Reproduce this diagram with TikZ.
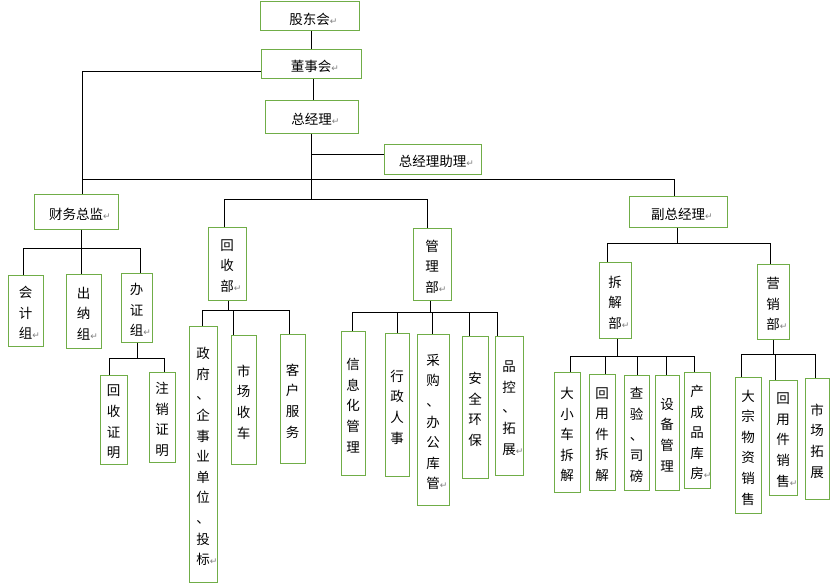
\documentclass[tikz,border=0pt]{standalone}
\usepackage{fontspec}
\setmainfont{Noto Sans CJK SC}
\newfontfamily\symf{DejaVu Sans}
\usetikzlibrary{fit}
\definecolor{boxgreen}{RGB}{112,173,71}
\newcommand\rt{\rlap{\textcolor{gray}{\symf\fontsize{9}{9}\selectfont ↵}}}
\tikzset{
  box/.style={draw=boxgreen, line width=1pt, inner sep=0pt},
  txt/.style={inner sep=0pt, align=center, yshift=-2.5pt,
    font=\fontsize{13.5}{20.6}\selectfont},
  ln/.style={line width=0.9pt, black},
}
\newcommand\bx[6]{\node[box, fit={(#2,#3)(#4,#5)}] (#1) {};
  \node[txt] (#1t) at (#1.center) {#6};}
\begin{document}
\begin{tikzpicture}[x=1pt,y=-1pt]
\useasboundingbox[fill=white] (0,0) rectangle (832,586);
% top level
\bx{gd}{260}{2}{359}{31}{股东会\rt}
\bx{ds}{261}{50}{361}{78}{董事会\rt}
\bx{zjl}{265}{100}{358}{133}{总经理\rt}
\bx{zl}{384}{144}{481}{174}{总经理助理\rt}
\bx{cw}{34}{194}{118}{229}{财务总监\rt}
\bx{fz}{629}{196}{727}{227}{副总经理\rt}
% finance
\bx{kj}{8}{275}{43}{346}{会\\计\\组\rt}
\bx{cn}{66}{274}{101}{348}{出\\纳\\组\rt}
\bx{bz}{121}{273}{152}{342}{办\\证\\组\rt}
\bx{hz}{100}{375}{127}{464}{回\\收\\证\\明}
\bx{zx}{149}{372}{175}{462}{注\\销\\证\\明}
% recycling
\bx{hs}{208}{227}{246}{300}{回\\收\\部\rt}
\bx{zf}{189}{326}{217}{582}{政\\府\\、\\企\\事\\业\\单\\位\\、\\投\\标\rt}
\bx{sc}{231}{335}{256}{464}{市\\场\\收\\车}
\bx{kh}{280}{334}{305}{463}{客\\户\\服\\务}
% management
\bx{gl}{413}{228}{451}{300}{管\\理\\部\rt}
\bx{xx}{341}{331}{365}{475}{信\\息\\化\\管\\理}
\bx{xz}{385}{333}{409}{476}{行\\政\\人\\事}
\bx{cg}{417}{334}{449}{505}{采\\购\\、\\办\\公\\库\\管\rt}
\bx{aq}{462}{336}{488}{478}{安\\全\\环\\保}
\bx{pk}{495}{336}{523}{475}{品\\控\\、\\拓\\展\rt}
% dismantling
\bx{cj}{599}{262}{631}{338}{拆\\解\\部\rt}
\bx{dx}{554}{372}{580}{492}{大\\小\\车\\拆\\解}
\bx{hy}{589}{374}{615}{490}{回\\用\\件\\拆\\解}
\bx{cy}{624}{375}{649}{490}{查\\验\\、\\司\\磅}
\bx{sb}{655}{375}{679}{490}{设\\备\\管\\理}
\bx{cp}{684}{372}{710}{488}{产\\成\\品\\库\\房\rt}
% sales
\bx{yx}{757}{264}{789}{339}{营\\销\\部\rt}
\bx{dz}{735}{377}{761}{513}{大\\宗\\物\\资\\销\\售}
\bx{hx}{769}{380}{797}{495}{回\\用\\件\\销\\售\rt}
\bx{ts}{805}{378}{829}{499}{市\\场\\拓\\展}

% connectors
\draw[ln] (gd.south -| 311,0) -- (ds.north -| 311,0);
\draw[ln] (ds.south -| 313,0) -- (zjl.north -| 313,0);
\draw[ln] (ds.west |- 0,71) -| (cw.north -| 82,0);
\draw[ln] (82,179) -| (fz.north -| 674,0);
\draw[ln] (zjl.south -| 311,0) -- (311,199);
\draw[ln] (311,154) -- (zl.west |- 0,154);
\draw[ln] (hs.north -| 224,0) |- (427,199) -- (gl.north -| 427,0);
% finance children
\draw[ln] (cw.south -| 81,0) -- (81,248);
\draw[ln] (23,248) -- (140,248);
\draw[ln] (kj.north -| 23,0) -- (23,248);
\draw[ln] (cn.north -| 81,0) -- (81,248);
\draw[ln] (bz.north -| 140,0) -- (140,248);
\draw[ln] (bz.south -| 137,0) -- (137,358);
\draw[ln] (hz.north -| 109,0) |- (164,358) -- (zx.north -| 164,0);
% recycling children
\draw[ln] (hs.south -| 228,0) -- (228,310);
\draw[ln] (zf.north -| 202,0) |- (289,310) -- (kh.north -| 289,0);
\draw[ln] (sc.north -| 233,0) -- (233,310);
% management children
\draw[ln] (gl.south -| 430,0) -- (430,312);
\draw[ln] (xx.north -| 352,0) |- (497,312) -- (pk.north -| 497,0);
\draw[ln] (xz.north -| 397,0) -- (397,312);
\draw[ln] (cg.north -| 432,0) -- (432,312);
\draw[ln] (aq.north -| 469,0) -- (469,312);
% vice GM
\draw[ln] (fz.south -| 677,0) -- (677,243);
\draw[ln] (cj.north -| 607,0) |- (770,243) -- (yx.north -| 770,0);
% dismantling children
\draw[ln] (cj.south -| 617,0) -- (617,356);
\draw[ln] (dx.north -| 570,0) |- (694,356) -- (cp.north -| 694,0);
\draw[ln] (hy.north -| 605,0) -- (605,356);
\draw[ln] (cy.north -| 637,0) -- (637,356);
\draw[ln] (sb.north -| 666,0) -- (666,356);
% sales children
\draw[ln] (yx.south -| 773,0) -- (773,354);
\draw[ln] (dz.north -| 741,0) |- (815,354) -- (ts.north -| 815,0);
\draw[ln] (hx.north -| 775,0) -- (775,354);
\end{tikzpicture}
\end{document}
